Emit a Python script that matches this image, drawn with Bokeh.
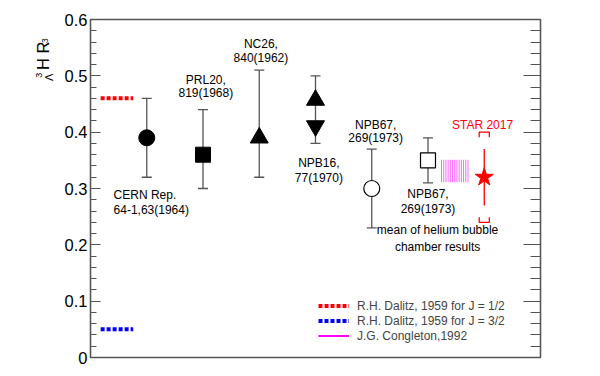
import numpy as np
from bokeh.plotting import figure
from bokeh.layouts import row
from bokeh.models import (Range1d, LinearAxis, FixedTicker, Whisker, TeeHead,
                          ColumnDataSource, Legend, LegendItem)
from bokeh.core.properties import value
from bokeh.embed import file_html
from bokeh.resources import INLINE

FONT = "Liberation Sans"

# ---------------- data ----------------
# measurements (x = slot index)
cern_x, cern_val, cern_lo, cern_hi = 1, 0.39, 0.32, 0.46
prl_x, prl_val, prl_lo, prl_hi = 2, 0.36, 0.30, 0.44
nc_x, nc_val, nc_lo, nc_hi = 3, 0.39, 0.32, 0.51
npb16_x, npb16_up, npb16_down, npb16_lo, npb16_hi = 4, 0.457, 0.411, 0.38, 0.50
npb67a_x, npb67a_val, npb67a_lo, npb67a_hi = 5, 0.30, 0.23, 0.37
npb67b_x, npb67b_val, npb67b_lo, npb67b_hi = 6, 0.35, 0.31, 0.39
star_x, star_val, star_stat_lo, star_stat_hi = 7, 0.32, 0.27, 0.37
star_sys_lo, star_sys_hi = 0.24, 0.40

# theory
dalitz_x = [0.18, 0.76]
dalitz_half = 0.46
dalitz_three_half = 0.05
congleton_x = [6.24, 6.71]
congleton_lo, congleton_hi = 0.311, 0.351

# labels
label_texts = ["CERN Rep.", "64-1,63(1964)", "PRL20,", "819(1968)", "NC26,", "840(1962)",
               "NPB16,", "77(1970)", "NPB67,", "269(1973)", "NPB67,", "269(1973)",
               "mean of helium bubble", "chamber results"]
label_x = [0.41, 0.41, 2.05, 2.05, 3.03, 3.03, 4.06, 4.06, 5.07, 5.07, 6.0, 6.0, 6.17, 6.17]
label_y = [0.288, 0.261, 0.492, 0.469, 0.556, 0.531, 0.346, 0.3195, 0.4136, 0.3888,
           0.291, 0.263, 0.2255, 0.197]
label_align = ["left", "left"] + ["center"] * 12

y_ticks = [0, 0.1, 0.2, 0.3, 0.4, 0.5, 0.6]

# y-axis title pieces
ytitle_texts = ["3", "\u039b", "H R", "3"]

# ---------------- title strip (left) ----------------
LW, H = 56, 368
t = figure(width=LW, height=H, output_backend="svg", toolbar_location=None,
           x_range=Range1d(0, LW), y_range=Range1d(0, H),
           min_border_left=0, min_border_right=0, min_border_top=0, min_border_bottom=0)
t.axis.visible = False
t.grid.visible = False
t.outline_line_color = None
tx = [38.5, 48, 42, 44]
ty = [H - 63.5, H - 67, H - 55, H - 25.5]
tsize = ["9px", "11px", "16.5px", "8.5px"]
for s, xx, yy, sz in zip(ytitle_texts, tx, ty, tsize):
    t.text(x=[xx], y=[yy], text=[s], angle=np.pi / 2, text_font=value(FONT),
           text_font_size=sz, text_align="left", text_baseline="alphabetic", text_color="black")

# ---------------- main figure ----------------
p = figure(width=584 - LW, height=H, output_backend="svg", toolbar_location=None,
           x_range=Range1d(0, 8), y_range=Range1d(0, 0.6),
           min_border_left=90 - LW, min_border_right=44, min_border_top=19, min_border_bottom=11)
p.xaxis.visible = False
p.grid.visible = False
p.outline_line_color = "#555555"
p.outline_line_width = 1.3

minor = [round(v, 3) for v in np.arange(0, 0.6001, 0.02)]
ax = p.yaxis[0]
ax.ticker = FixedTicker(ticks=y_ticks, minor_ticks=minor)
ax.major_tick_in = 10
ax.major_tick_out = 0
ax.minor_tick_in = 6
ax.minor_tick_out = 0
ax.axis_line_color = "#555555"
ax.axis_line_width = 1.3
ax.major_tick_line_color = "#555555"
ax.minor_tick_line_color = "#555555"
ax.major_tick_line_width = 1.2
ax.minor_tick_line_width = 1.2
ax.major_label_text_font = FONT
ax.major_label_text_font_size = "16.5px"
ax.major_label_text_color = "black"
ax.major_label_standoff = 3
ax.major_label_overrides = {0: "0"}

rax = LinearAxis(ticker=FixedTicker(ticks=y_ticks, minor_ticks=minor))
rax.major_tick_in = 17
rax.major_tick_out = 0
rax.minor_tick_in = 10
rax.minor_tick_out = 0
rax.axis_line_color = "#555555"
rax.axis_line_width = 1.3
rax.major_tick_line_color = "#555555"
rax.minor_tick_line_color = "#555555"
rax.major_tick_line_width = 1.2
rax.minor_tick_line_width = 1.2
rax.major_label_text_color = None
p.add_layout(rax, "right")

# error bars
err_src = ColumnDataSource(dict(
    x=[cern_x, prl_x, nc_x, npb16_x, npb67a_x, npb67b_x],
    lo=[cern_lo, prl_lo, nc_lo, npb16_lo, npb67a_lo, npb67b_lo],
    hi=[cern_hi, prl_hi, nc_hi, npb16_hi, npb67a_hi, npb67b_hi]))
w = Whisker(source=err_src, base="x", lower="lo", upper="hi", dimension="height",
            line_color="#555555", line_width=1.3, level="underlay",
            upper_head=TeeHead(size=10, line_color="#555555", line_width=1.3),
            lower_head=TeeHead(size=10, line_color="#555555", line_width=1.3))
p.add_layout(w)

# markers
p.scatter([cern_x], [cern_val], marker="circle", size=16, fill_color="black", line_color="black")
p.scatter([prl_x], [prl_val], marker="square", size=15, fill_color="black", line_color="black")
p.scatter([nc_x], [nc_val], marker="triangle", size=18, fill_color="black", line_color="black")
p.scatter([npb16_x], [npb16_up], marker="triangle", size=18, fill_color="black", line_color="black")
p.scatter([npb16_x], [npb16_down], marker="inverted_triangle", size=18, fill_color="black", line_color="black")
p.scatter([npb67a_x], [npb67a_val], marker="circle", size=16, fill_color="white", line_color="black", line_width=1.2)
p.scatter([npb67b_x], [npb67b_val], marker="square", size=15, fill_color="white", line_color="black", line_width=1.2)

# Congleton hatched band
hx = np.linspace(congleton_x[0], congleton_x[1], 13)
p.segment(x0=hx, x1=hx, y0=[congleton_lo] * len(hx), y1=[congleton_hi] * len(hx),
          line_color="#ff00ff", line_width=1, line_alpha=0.6)

# STAR
p.segment(x0=[star_x], x1=[star_x], y0=[star_stat_lo], y1=[star_stat_hi], line_color="red", line_width=1.3)
bw, bh = 0.09, 0.009
p.multi_line(xs=[[star_x - bw, star_x - bw, star_x + bw, star_x + bw],
                 [star_x - bw, star_x - bw, star_x + bw, star_x + bw]],
             ys=[[star_sys_hi - bh, star_sys_hi, star_sys_hi, star_sys_hi - bh],
                 [star_sys_lo + bh, star_sys_lo, star_sys_lo, star_sys_lo + bh]],
             line_color="red", line_width=1.3)
p.scatter([star_x], [star_val], marker="star", size=19, fill_color="red", line_color="red")
p.text(x=[star_x - 0.03], y=[0.4136], text=["STAR 2017"], text_font=value(FONT), text_font_size="12px",
       text_align="center", text_baseline="middle", text_color="red")

# Dalitz lines
r_half = p.segment(x0=[dalitz_x[0]], x1=[dalitz_x[1]], y0=[dalitz_half], y1=[dalitz_half],
                   line_color="red", line_width=4, line_dash="4 2")
r_three = p.segment(x0=[dalitz_x[0]], x1=[dalitz_x[1]], y0=[dalitz_three_half], y1=[dalitz_three_half],
                    line_color="blue", line_width=4, line_dash="4 2")
r_cong = p.line(x=[np.nan, np.nan], y=[np.nan, np.nan], line_color="#ff00ff", line_width=2)

# labels
lab_src = ColumnDataSource(dict(x=label_x, y=label_y, t=label_texts, a=label_align))
p.text(x="x", y="y", text="t", text_align="a", source=lab_src, text_font=value(FONT),
       text_font_size="12px", text_baseline="middle", text_color="black")

legend = Legend(items=[LegendItem(label="R.H. Dalitz, 1959 for J = 1/2", renderers=[r_half]),
                       LegendItem(label="R.H. Dalitz, 1959 for J = 3/2", renderers=[r_three]),
                       LegendItem(label="J.G. Congleton,1992", renderers=[r_cong])],
                location=(228, 14), glyph_width=31, glyph_height=15, label_height=15,
                spacing=0, padding=0, margin=0, label_standoff=8,
                border_line_color=None, background_fill_alpha=0,
                label_text_font=FONT, label_text_font_size="12px", label_text_baseline="middle")
p.add_layout(legend)

layout = row(t, p, spacing=0)
open("out.html", "w").write(file_html(layout, INLINE))
